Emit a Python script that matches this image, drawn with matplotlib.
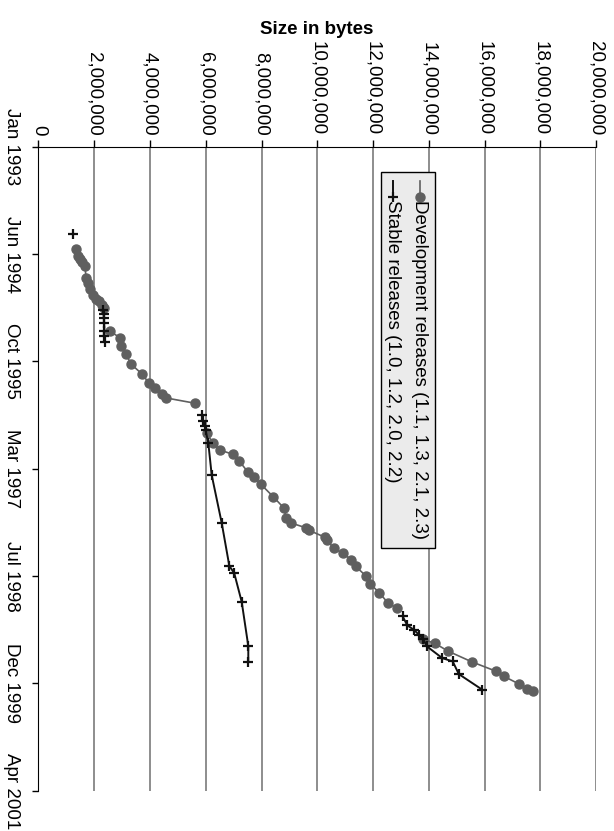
import numpy as np
from matplotlib import pyplot as plt
from matplotlib.patches import Rectangle

plt.rcParams['font.family'] = ['Liberation Sans', 'DejaVu Sans']

# release dates as fractional years, sizes in millions of bytes
dev_11_year = [1994.365, 1994.455, 1994.493, 1994.534, 1994.583, 1994.735, 1994.805,
               1994.878, 1994.955, 1995.009, 1995.037, 1995.084, 1995.126]
dev_11_size = [1.351, 1.423, 1.484, 1.573, 1.674, 1.710, 1.781,
               1.853, 1.943, 2.061, 2.183, 2.290, 2.341]

dev_13_year = [1995.420, 1995.505, 1995.603, 1995.715, 1995.841, 1995.965, 1996.085,
               1996.142, 1996.228, 1996.275, 1996.344]
dev_13_size = [2.584, 2.928, 2.975, 3.143, 3.323, 3.706, 3.968,
               4.165, 4.444, 4.570, 5.624]

dev_21_year = [1996.730, 1996.859, 1996.945, 1997.000, 1997.086, 1997.223, 1997.295,
               1997.385, 1997.544, 1997.689, 1997.821, 1997.879, 1997.943, 1997.975,
               1998.065, 1998.100, 1998.206, 1998.270, 1998.352, 1998.437, 1998.565,
               1998.660, 1998.773, 1998.904, 1998.976]
dev_21_size = [6.036, 6.272, 6.513, 6.989, 7.204, 7.505, 7.742,
               7.982, 8.423, 8.806, 8.885, 9.047, 9.606, 9.710,
               10.287, 10.355, 10.588, 10.932, 11.208, 11.380, 11.756,
               11.889, 12.219, 12.527, 12.867]

dev_23_year = [1999.374, 1999.425, 1999.524, 1999.661, 1999.781, 1999.848, 1999.948,
               2000.005, 2000.041]
dev_23_size = [13.799, 14.219, 14.685, 15.534, 16.398, 16.692, 17.240,
               17.516, 17.720]

stable_10_year = [1994.172]
stable_10_size = [1.254]

stable_12_year = [1995.148, 1995.199, 1995.250, 1995.315, 1995.417, 1995.481, 1995.558]
stable_12_size = [2.33, 2.34, 2.35, 2.36, 2.37, 2.37, 2.38]

stable_20_year = [1996.495, 1996.569, 1996.633, 1996.688, 1996.851, 1997.265, 1997.878,
                  1998.429, 1998.527, 1998.891, 1999.460, 1999.661]
stable_20_size = [5.857, 5.914, 5.975, 5.993, 6.093, 6.215, 6.573,
                  6.846, 7.025, 7.290, 7.527, 7.527]

stable_22_year = [1999.079, 1999.194, 1999.251, 1999.315, 1999.366, 1999.464, 1999.614,
                  1999.656, 1999.819, 2000.021]
stable_22_size = [13.061, 13.226, 13.466, 13.645, 13.789, 13.932, 14.480,
                  14.853, 15.072, 15.921]

size_ticks = [0, 2000000, 4000000, 6000000, 8000000, 10000000,
              12000000, 14000000, 16000000, 18000000, 20000000]
date_labels = ["Jan 1993", "Jun 1994", "Oct 1995", "Mar 1997",
               "Jul 1998", "Dec 1999", "Apr 2001"]
date_start = 1993.052
date_end = 2001.315

dev_series = [(dev_11_year, dev_11_size), (dev_13_year, dev_13_size),
              (dev_21_year, dev_21_size), (dev_23_year, dev_23_size)]
stable_series = [(stable_10_year, stable_10_size), (stable_12_year, stable_12_size),
                 (stable_20_year, stable_20_size), (stable_22_year, stable_22_size)]

dev_style = dict(color="#5f5f5f", lw=1.2, marker="o", ms=6.5, mec="#5f5f5f", mfc="#5f5f5f")
stable_style = dict(color="#111111", lw=1.4, marker="+", ms=7, mew=1.6)

fig = plt.figure(figsize=(6.14, 8.31), dpi=100)
ax = fig.add_axes([38.3 / 614, 1 - 790.7 / 831, 558 / 614, 644 / 831])

# chart is drawn turned a quarter turn clockwise: size across, time downwards
for years, sizes in dev_series:
    ax.plot(np.array(sizes) * 1e6, years, **dev_style)
for years, sizes in stable_series:
    ax.plot(np.array(sizes) * 1e6, years, **stable_style)

ax.set_xlim(0, 20000000)
ax.set_ylim(date_end, date_start)

ax.xaxis.tick_top()
ax.set_xticks(size_ticks)
ax.set_xticklabels([f"{v:,}" for v in size_ticks], rotation=-90, ha="center", va="bottom")
ax.set_yticks(np.linspace(date_start, date_end, len(date_labels)))
ax.set_yticklabels(date_labels, rotation=-90, ha="right", va="center")
ax.tick_params(axis="x", length=5, width=1, pad=3, labelsize=13.5)
ax.tick_params(axis="y", length=4, width=1, pad=9, labelsize=13.5)

ax.set_axisbelow(True)
ax.grid(axis="x", color="#7a7a7a", lw=1.2)
ax.grid(axis="y", visible=False)
ax.spines["right"].set_visible(False)
ax.spines["bottom"].set_visible(False)
ax.spines["top"].set_color("black")
ax.spines["left"].set_color("black")

fig.text(317 / 614, 1 - 30 / 831, "Size in bytes", ha="center", va="center",
         fontweight="bold", fontsize=13.5)

# legend box, turned like the rest of the chart
ax.add_patch(Rectangle((0.6138, 0.3769), 0.0968, 0.5843, transform=ax.transAxes,
                       facecolor="#ebebeb", edgecolor="black", lw=1, zorder=5))
entries = [("Development releases (1.1, 1.3, 2.1, 2.3)", dev_style, 0.684),
           ("Stable releases (1.0, 1.2, 2.0, 2.2)", stable_style, 0.6348)]
for label, style, xpos in entries:
    ax.plot([xpos, xpos], [0.9467, 0.9219], transform=ax.transAxes,
            zorder=6, markevery=[1], clip_on=False, **style)
    ax.text(xpos, 0.917, label, transform=ax.transAxes, rotation=-90,
            ha="center", va="top", fontsize=13.5, zorder=6)

fig.savefig("out.png", dpi=100)
